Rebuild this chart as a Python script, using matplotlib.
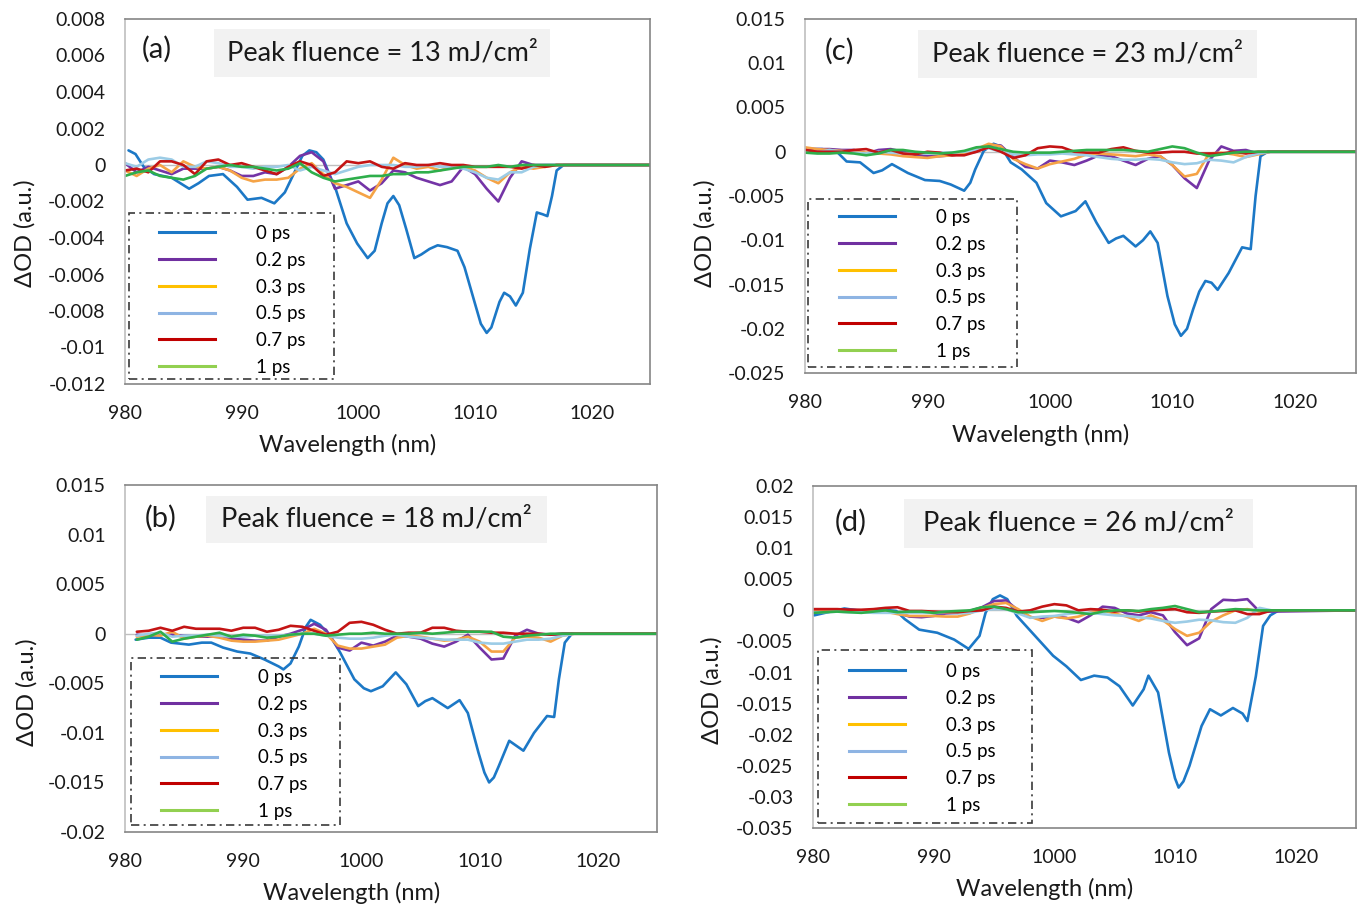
import numpy as np
import matplotlib.pyplot as plt
from matplotlib.lines import Line2D
from matplotlib.patches import Rectangle
from matplotlib.ticker import FuncFormatter

plt.rcParams['font.family'] = ['Lato', 'DejaVu Sans']

# ---------------- data ----------------
labels = ['0 ps', '0.2 ps', '0.3 ps', '0.5 ps', '0.7 ps', '1 ps']

# common wavelength grid for the small (delayed) traces
wl_grid = list(range(980, 1019)) + [1025]
wl_grid_b = list(range(981, 1019)) + [1025]

# panel (a) 13 mJ/cm2
a_0ps_wl = [980.3, 980.9, 981.6, 982.5, 984.0, 985.5, 986.3, 987.2, 988.4, 989.6, 990.5, 991.7, 992.8,
            993.7, 994.6, 995.2, 995.8, 996.4, 997.0, 998.1, 999.0, 999.9, 1000.8, 1001.4, 1002.0,
            1002.5, 1003.0, 1003.5, 1004.1, 1004.8, 1005.4, 1006.1, 1006.8, 1007.6, 1008.5, 1009.1,
            1010.0, 1010.5, 1011.0, 1011.4, 1011.7, 1012.1, 1012.5, 1013.0, 1013.5, 1014.1, 1014.7,
            1015.3, 1015.8, 1016.2, 1016.6, 1017.0, 1017.6, 1018.5, 1025]
a_0ps = [0.0008, 0.0006, -0.0001, -0.0005, -0.0007, -0.0013, -0.0010, -0.0006, -0.0005, -0.0012,
         -0.0019, -0.0018, -0.0021, -0.0015, -0.0003, 0.0005, 0.0008, 0.0007, 0.0003, -0.0014,
         -0.0032, -0.0043, -0.0051, -0.0047, -0.0032, -0.0021, -0.0017, -0.0022, -0.0035, -0.0051,
         -0.0049, -0.0046, -0.0044, -0.0045, -0.0047, -0.0056, -0.0076, -0.0087, -0.0092, -0.0089,
         -0.0083, -0.0075, -0.0070, -0.0072, -0.0077, -0.0070, -0.0046, -0.0026, -0.0027, -0.0028,
         -0.0017, -0.0003, 0.0, 0.0, 0.0]
a_02ps = [0.0001, -0.0004, -0.0001, -0.0003, -0.0005, -0.0002, -0.0002, -0.0002, -0.0001, -0.0003,
          -0.0006, -0.0006, -0.0004, -0.0005, -0.0001, 0.0005, 0.0007, 0.0002, -0.0013, -0.0011,
          -0.0009, -0.0014, -0.0010, -0.0003, -0.0004, -0.0007, -0.0009, -0.0011, -0.0009, -0.0001,
          -0.0005, -0.0013, -0.0020, -0.0007, 0.0002, 0.0, 0.0, 0.0, 0.0, 0.0]
a_03ps = [-0.0003, -0.0006, -0.0002, 0.0, -0.0004, 0.0002, -0.0001, -0.0002, -0.0001, -0.0003,
          -0.0007, -0.0009, -0.0008, -0.0008, -0.0007, -0.0002, 0.0001, -0.0005, -0.0010, -0.0012,
          -0.0015, -0.0018, -0.0008, 0.0004, 0.0, -0.0002, -0.0001, -0.0003, -0.0001, -0.0001,
          -0.0003, -0.0007, -0.0010, -0.0004, -0.0001, -0.0002, -0.0001, 0.0, 0.0, 0.0]
a_05ps = [0.0001, -0.0001, 0.0003, 0.0004, 0.0003, -0.0001, -0.0001, 0.0002, 0.0001, -0.0001,
          -0.0001, -0.0002, -0.0001, -0.0001, 0.0, -0.0003, -0.0001, -0.0003, -0.0005, -0.0003,
          -0.0001, 0.0, 0.0, 0.0, -0.0001, -0.0001, 0.0, -0.0001, -0.0001, -0.0002,
          -0.0004, -0.0007, -0.0008, -0.0004, -0.0004, -0.0001, 0.0, 0.0, 0.0, 0.0]
a_07ps = [-0.0003, -0.0002, -0.0004, 0.0002, 0.0002, 0.0, -0.0005, 0.0002, 0.0003, 0.0,
          0.0001, -0.0001, -0.0003, -0.0005, -0.0001, 0.0002, 0.0, -0.0006, -0.0004, 0.0002,
          0.0001, 0.0002, -0.0001, -0.0002, 0.0001, 0.0, 0.0, 0.0001, 0.0, 0.0,
          -0.0001, -0.0001, -0.0001, -0.0001, -0.0002, 0.0, -0.0001, 0.0, 0.0, 0.0]
a_1ps = [-0.0006, -0.0004, -0.0003, -0.0006, -0.0007, -0.0008, -0.0006, -0.0002, -0.0001, 0.0,
         -0.0001, -0.0001, -0.0002, -0.0003, -0.0002, 0.0001, -0.0004, -0.0007, -0.0009, -0.0008,
         -0.0007, -0.0006, -0.0006, -0.0005, -0.0005, -0.0004, -0.0004, -0.0003, -0.0002, -0.0001,
         -0.0001, -0.0001, 0.0, -0.0001, 0.0, 0.0, 0.0, 0.0, 0.0, 0.0]

# panel (b) 18 mJ/cm2
b_0ps_wl = [980.9, 982.0, 983.0, 983.9, 985.4, 986.5, 987.3, 988.3, 989.5, 990.6, 991.8, 993.0, 993.4,
            994.0, 994.7, 995.3, 995.7, 996.5, 997.4, 998.2, 999.4, 1000.2, 1000.8, 1001.8, 1002.9,
            1003.8, 1004.8, 1005.4, 1006.0, 1007.3, 1008.3, 1009.0, 1009.9, 1010.4, 1010.8, 1011.2,
            1011.6, 1012.5, 1013.1, 1013.7, 1014.6, 1015.7, 1016.3, 1016.7, 1017.2, 1017.8, 1025]
b_0ps = [-0.0006, -0.0004, -0.0004, -0.0009, -0.0011, -0.0009, -0.0009, -0.0014, -0.0018, -0.0020,
         -0.0026, -0.0033, -0.0036, -0.0030, -0.0013, 0.0007, 0.0014, 0.0009, -0.0003, -0.0019,
         -0.0046, -0.0055, -0.0058, -0.0053, -0.0039, -0.0051, -0.0073, -0.0068, -0.0065, -0.0075,
         -0.0067, -0.0080, -0.0120, -0.0140, -0.0150, -0.0145, -0.0134, -0.0108, -0.0113, -0.0118,
         -0.0100, -0.0083, -0.0084, -0.0046, -0.0009, 0.0, 0.0]
b_02ps = [-0.0001, -0.0002, -0.0001, -0.0001, -0.0002, -0.0003, -0.0003, -0.0002, -0.0005, -0.0006,
          -0.0007, -0.0007, -0.0003, 0.0, 0.0004, 0.0010, 0.0004, -0.0014, -0.0017, -0.0009,
          -0.0012, -0.0008, -0.0002, -0.0003, -0.0005, -0.0010, -0.0013, -0.0008, -0.0001, -0.0014,
          -0.0026, -0.0025, -0.0002, 0.0004, 0.0, -0.0001, 0.0, 0.0, 0.0]
b_03ps = [-0.0003, -0.0001, -0.0002, 0.0002, -0.0005, -0.0003, -0.0002, -0.0004, -0.0007, -0.0008,
          -0.0008, -0.0007, -0.0006, -0.0003, 0.0, 0.0005, 0.0, -0.0012, -0.0015, -0.0015,
          -0.0013, -0.0011, -0.0004, -0.0002, -0.0003, -0.0005, -0.0007, -0.0006, -0.0003, -0.0008,
          -0.0018, -0.0018, -0.0004, -0.0003, -0.0004, -0.0008, -0.0002, 0.0, 0.0]
b_05ps = [-0.0002, 0.0, 0.0001, -0.0003, -0.0002, -0.0002, -0.0001, -0.0002, -0.0003, -0.0003,
          -0.0002, -0.0002, -0.0002, -0.0001, 0.0, 0.0, -0.0002, -0.0004, -0.0005, -0.0005,
          -0.0004, -0.0002, -0.0001, -0.0003, -0.0004, -0.0005, -0.0006, -0.0006, -0.0006, -0.0009,
          -0.0010, -0.0010, -0.0008, -0.0006, -0.0006, -0.0005, -0.0002, 0.0, 0.0]
b_07ps = [0.0002, 0.0003, 0.0006, 0.0003, 0.0007, 0.0005, 0.0005, 0.0005, 0.0003, 0.0006,
          0.0006, 0.0002, 0.0004, 0.0008, 0.0007, 0.0003, -0.0001, 0.0002, 0.0011, 0.0012,
          0.0009, 0.0004, 0.0, 0.0001, 0.0001, 0.0006, 0.0006, 0.0003, 0.0002, 0.0002,
          0.0001, 0.0001, 0.0, 0.0, 0.0, -0.0001, 0.0, 0.0, 0.0]
b_1ps = [-0.0006, -0.0003, 0.0002, -0.0008, -0.0005, -0.0003, -0.0001, 0.0001, -0.0003, -0.0001,
         -0.0002, -0.0004, -0.0003, -0.0001, 0.0, 0.0, -0.0002, -0.0001, 0.0, 0.0,
         0.0001, 0.0, 0.0, 0.0, 0.0001, 0.0, 0.0001, 0.0002, 0.0002, 0.0002,
         0.0002, -0.0003, -0.0004, -0.0002, -0.0001, 0.0, 0.0, 0.0, 0.0]

# panel (c) 23 mJ/cm2
c_0ps_wl = [980.2, 981.4, 982.6, 983.4, 984.5, 985.6, 986.3, 987.1, 988.4, 989.8, 991.0, 991.9, 993.0,
            993.5, 993.9, 994.6, 995.4, 996.0, 996.8, 997.7, 998.9, 999.7, 1000.9, 1002.1, 1002.9,
            1003.8, 1004.8, 1005.4, 1006.0, 1007.0, 1007.6, 1008.2, 1008.8, 1009.6, 1010.2, 1010.7,
            1011.2, 1011.7, 1012.2, 1012.7, 1013.2, 1013.7, 1014.6, 1015.7, 1016.4, 1016.8, 1017.2,
            1017.8, 1025]
c_0ps = [0.0003, 0.0003, 0.0, -0.0011, -0.0012, -0.0024, -0.0021, -0.0014, -0.0024, -0.0032,
         -0.0033, -0.0037, -0.0044, -0.0035, -0.0020, 0.0001, 0.0009, 0.0006, -0.0012, -0.0020,
         -0.0035, -0.0058, -0.0073, -0.0067, -0.0056, -0.0080, -0.0103, -0.0098, -0.0095, -0.0107,
         -0.0100, -0.0090, -0.0103, -0.0163, -0.0195, -0.0208, -0.0200, -0.0178, -0.0158, -0.0146,
         -0.0148, -0.0156, -0.0137, -0.0108, -0.0110, -0.0050, -0.0005, 0.0, 0.0]
c_02ps = [0.0003, 0.0003, 0.0003, 0.0002, 0.0002, -0.0002, 0.0002, 0.0003, 0.0, -0.0003,
          -0.0005, -0.0005, -0.0004, -0.0002, 0.0, 0.0008, 0.0007, -0.0006, -0.0017, -0.0019,
          -0.0010, -0.0012, -0.0015, -0.0010, -0.0004, -0.0005, -0.0010, -0.0015, -0.0008, -0.0005,
          -0.0015, -0.0030, -0.0041, -0.0010, 0.0006, 0.0001, 0.0002, -0.0002, 0.0, 0.0]
c_03ps = [0.0005, 0.0003, 0.0002, 0.0001, 0.0, -0.0001, -0.0002, -0.0003, -0.0005, -0.0006,
          -0.0007, -0.0005, -0.0004, -0.0002, 0.0003, 0.0009, 0.0006, -0.0008, -0.0014, -0.0019,
          -0.0014, -0.0011, -0.0008, -0.0003, -0.0002, -0.0003, -0.0004, -0.0005, -0.0003, -0.0005,
          -0.0015, -0.0028, -0.0025, -0.0002, -0.0001, -0.0003, -0.0006, -0.0003, 0.0, 0.0]
c_05ps = [0.0, -0.0001, 0.0002, 0.0, -0.0001, -0.0002, 0.0, -0.0001, -0.0002, -0.0002,
          -0.0002, -0.0001, -0.0001, 0.0, 0.0002, 0.0004, 0.0, -0.0003, -0.0004, -0.0003,
          -0.0003, -0.0002, -0.0003, -0.0004, -0.0006, -0.0008, -0.0009, -0.0009, -0.0008, -0.0009,
          -0.0012, -0.0014, -0.0013, -0.0009, -0.0010, -0.0012, -0.0006, -0.0002, 0.0, 0.0]
c_07ps = [0.0002, 0.0, 0.0, 0.0, 0.0002, 0.0003, -0.0001, 0.0002, -0.0002, -0.0003,
          0.0, -0.0001, -0.0004, -0.0004, 0.0, 0.0005, 0.0, -0.0007, -0.0004, 0.0004,
          0.0006, 0.0005, 0.0, -0.0001, -0.0001, 0.0003, 0.0005, 0.0001, -0.0001, -0.0001,
          0.0, 0.0, -0.0002, -0.0002, -0.0002, 0.0, -0.0002, 0.0, 0.0, 0.0]
c_1ps = [-0.0001, -0.0002, -0.0002, -0.0001, -0.0002, -0.0004, -0.0002, 0.0002, 0.0002, 0.0,
         -0.0001, -0.0002, -0.0001, 0.0001, 0.0005, 0.0006, 0.0003, 0.0, -0.0001, -0.0001,
         -0.0001, 0.0, 0.0001, 0.0002, 0.0002, 0.0002, 0.0002, 0.0001, 0.0, 0.0003,
         0.0006, 0.0004, -0.0001, -0.0005, -0.0003, -0.0001, 0.0, 0.0, 0.0, 0.0]

# panel (d) 26 mJ/cm2
d_0ps_wl = [980.1, 981.0, 982.6, 984.0, 985.5, 986.9, 987.6, 988.8, 990.3, 991.7, 992.9, 993.8, 994.3,
            994.9, 995.5, 996.1, 996.9, 998.4, 999.9, 1001.0, 1002.2, 1003.3, 1004.4, 1005.4, 1006.5,
            1007.4, 1007.8, 1008.6, 1009.5, 1010.0, 1010.3, 1010.7, 1011.2, 1012.2, 1012.9, 1013.8,
            1014.8, 1015.6, 1016.0, 1016.7, 1017.3, 1017.9, 1018.6, 1025]
d_0ps = [-0.0008, -0.0004, 0.0003, -0.0001, 0.0002, -0.0001, -0.0014, -0.0031, -0.0036, -0.0047,
         -0.0062, -0.0041, -0.0004, 0.0018, 0.0024, 0.0018, -0.0009, -0.0041, -0.0073, -0.0090,
         -0.0112, -0.0105, -0.0108, -0.0122, -0.0153, -0.0127, -0.0105, -0.0132, -0.0229, -0.0270,
         -0.0285, -0.0275, -0.0250, -0.0186, -0.0159, -0.0169, -0.0157, -0.0166, -0.0178, -0.0106,
         -0.0025, -0.0008, 0.0, 0.0]
d_02ps = [-0.0001, 0.0, 0.0001, 0.0001, 0.0, 0.0, 0.0, -0.0004, -0.0010, -0.0011,
          -0.0009, -0.0005, -0.0004, -0.0001, 0.0005, 0.0015, 0.0016, 0.0, -0.0011, -0.0012,
          -0.0010, -0.0012, -0.0019, -0.0008, 0.0006, 0.0004, -0.0005, -0.0008, -0.0003, -0.0008,
          -0.0035, -0.0056, -0.0045, 0.0002, 0.0017, 0.0016, 0.0018, -0.0002, -0.0002, 0.0]
d_03ps = [0.0, -0.0001, 0.0, 0.0, -0.0001, -0.0001, -0.0002, -0.0006, -0.0009, -0.0009,
          -0.0009, -0.0010, -0.0010, -0.0005, 0.0004, 0.0010, 0.0012, 0.0002, -0.0010, -0.0017,
          -0.0010, -0.0013, -0.0010, -0.0003, 0.0, -0.0005, -0.0010, -0.0017, -0.0008, -0.0016,
          -0.0030, -0.0041, -0.0036, -0.0018, -0.0008, 0.0, 0.0002, -0.0002, 0.0, 0.0]
d_05ps = [-0.0003, -0.0003, -0.0002, -0.0003, -0.0003, -0.0004, -0.0004, -0.0004, -0.0004, -0.0004,
          -0.0004, -0.0004, -0.0005, -0.0004, 0.0, 0.0002, 0.0002, -0.0005, -0.0012, -0.0010,
          -0.0009, -0.0006, -0.0004, -0.0004, -0.0006, -0.0008, -0.0009, -0.0011, -0.0013, -0.0017,
          -0.0020, -0.0018, -0.0015, -0.0016, -0.0019, -0.0020, -0.0012, 0.0004, 0.0, 0.0]
d_07ps = [0.0002, 0.0002, 0.0002, 0.0001, 0.0001, 0.0002, 0.0004, 0.0005, -0.0001, -0.0001,
          -0.0002, -0.0003, -0.0003, -0.0001, 0.0, 0.0006, 0.0004, -0.0002, 0.0, 0.0006,
          0.0010, 0.0008, 0.0, 0.0002, 0.0001, -0.0002, 0.0, -0.0002, 0.0, 0.0001,
          0.0002, -0.0003, -0.0004, -0.0002, -0.0001, 0.0, -0.0006, -0.0006, 0.0, 0.0]
d_1ps = [-0.0004, -0.0003, -0.0002, -0.0003, -0.0004, -0.0002, 0.0, -0.0003, -0.0002, -0.0002,
         -0.0004, -0.0002, -0.0001, 0.0, 0.0005, 0.0006, 0.0002, -0.0003, -0.0003, -0.0002,
         -0.0001, -0.0002, -0.0004, -0.0006, -0.0002, 0.0, 0.0, -0.0001, 0.0002, 0.0004,
         0.0007, 0.0002, -0.0003, -0.0002, 0.0, 0.0002, 0.0001, 0.0, 0.0, 0.0]

fluences = ['13', '18', '23', '26']
y_ticks_a = [-0.012, -0.01, -0.008, -0.006, -0.004, -0.002, 0, 0.002, 0.004, 0.006, 0.008]
y_ticks_b = [-0.02, -0.015, -0.01, -0.005, 0, 0.005, 0.01, 0.015]
y_ticks_c = [-0.025, -0.02, -0.015, -0.01, -0.005, 0, 0.005, 0.01, 0.015]
y_ticks_d = [-0.035, -0.03, -0.025, -0.02, -0.015, -0.01, -0.005, 0, 0.005, 0.01, 0.015, 0.02]
x_ticks = [980, 990, 1000, 1010, 1020]

# ---------------- styling ----------------
line_colors = ['#1C78C6', '#7434A6', '#F5A346', '#9CCCE6', '#C41414', '#2EAE4B']
legend_colors = ['#1C78C6', '#7030A0', '#FFC000', '#8EB4E3', '#C00000', '#92D050']

W, H = 1362, 909
fig = plt.figure(figsize=(W / 100, H / 100), dpi=100)


def excel_fmt(v, pos):
    v = round(v, 6)
    if v == 0:
        return '0'
    return '{:g}'.format(v)


panels = [
    # tag, fluence, axes box px (l, t, r, b), series, yticks, legend box px, note box px, tag xy, ylabel xy, xlabel xy
    dict(tag='(a)', flu=fluences[0], box=(125, 19, 650, 384),
         series=[(a_0ps_wl, a_0ps), (wl_grid, a_02ps), (wl_grid, a_03ps), (wl_grid, a_05ps),
                 (wl_grid, a_07ps), (wl_grid, a_1ps)],
         yt=y_ticks_a, leg=(129, 213, 334, 379), row1=232, hx=159,
         note=(214, 29, 550, 77), tagxy=(157, 49), ylab=(25, 233), xlab=(348, 445)),
    dict(tag='(b)', flu=fluences[1], box=(125, 485, 657, 832),
         series=[(b_0ps_wl, b_0ps), (wl_grid_b, b_02ps), (wl_grid_b, b_03ps), (wl_grid_b, b_05ps),
                 (wl_grid_b, b_07ps), (wl_grid_b, b_1ps)],
         yt=y_ticks_b, leg=(131, 658, 340, 825), row1=676, hx=161,
         note=(206, 496, 547, 543), tagxy=(161, 518), ylab=(27, 692), xlab=(352, 893)),
    dict(tag='(c)', flu=fluences[2], box=(805, 19, 1356, 373),
         series=[(c_0ps_wl, c_0ps), (wl_grid, c_02ps), (wl_grid, c_03ps), (wl_grid, c_05ps),
                 (wl_grid, c_07ps), (wl_grid, c_1ps)],
         yt=y_ticks_c, leg=(808, 199, 1017, 367), row1=216, hx=839,
         note=(918, 30, 1257, 78), tagxy=(840, 51), ylab=(705, 233), xlab=(1041, 435)),
    dict(tag='(d)', flu=fluences[3], box=(813, 486, 1356, 828),
         series=[(d_0ps_wl, d_0ps), (wl_grid, d_02ps), (wl_grid, d_03ps), (wl_grid, d_05ps),
                 (wl_grid, d_07ps), (wl_grid, d_1ps)],
         yt=y_ticks_d, leg=(818, 650, 1032, 823), row1=670, hx=849,
         note=(904, 499, 1253, 548), tagxy=(851, 522), ylab=(712, 690), xlab=(1045, 889)),
]

for p in panels:
    l, t, r, b = p['box']
    ax = fig.add_axes([l / W, 1 - b / H, (r - l) / W, (b - t) / H])

    def fx(x):
        return (x - l) / (r - l)

    def fy(y):
        return (b - y) / (b - t)

    ax.axhline(0, color='#BFBFBF', lw=1.0, zorder=1)
    for (wl, vals), col in zip(p['series'], line_colors):
        ax.plot(wl, vals, color=col, lw=1.9, solid_joinstyle='round', solid_capstyle='round', zorder=2)

    ax.set_xlim(980, 1025)
    ax.set_ylim(p['yt'][0], p['yt'][-1])
    ax.set_xticks(x_ticks)
    ax.set_yticks(p['yt'])
    ax.yaxis.set_major_formatter(FuncFormatter(excel_fmt))
    ax.tick_params(axis='both', length=0, labelsize=14, colors='#1a1a1a')
    ax.tick_params(axis='x', pad=15)
    ax.tick_params(axis='y', pad=14)
    for side in ['top', 'right', 'bottom']:
        ax.spines[side].set_color('#858585')
        ax.spines[side].set_linewidth(1.2)
    ax.spines['left'].set_color('#BFBFBF')
    ax.spines['left'].set_linewidth(1.2)

    # legend: entries without frame, dash-dot box drawn around them
    handles = [Line2D([], [], color=c, lw=2.2) for c in legend_colors]
    ax.legend(handles, labels, loc='upper left', frameon=False, fontsize=13.5,
              bbox_to_anchor=(fx(p['hx']), fy(p['row1'] - 7)), borderpad=0, borderaxespad=0,
              handlelength=3.0, handletextpad=2.2, labelspacing=0.52)
    ll, lt, lr, lb = p['leg']
    ax.add_patch(Rectangle((fx(ll), fy(lb)), fx(lr) - fx(ll), fy(lt) - fy(lb), transform=ax.transAxes,
                           fill=False, ec='#3a3a3a', lw=1.2, ls=(0, (5, 2.6, 1.2, 2.6)), zorder=5))

    # fluence note on grey background
    nl, nt, nr, nb = p['note']
    ax.add_patch(Rectangle((fx(nl), fy(nb)), fx(nr) - fx(nl), fy(nt) - fy(nb), transform=ax.transAxes,
                           fc='#F2F2F2', ec='none', zorder=3))
    ax.text(fx((nl + nr) / 2), fy((nt + nb) / 2), 'Peak fluence = ' + p['flu'] + ' mJ/cm\u00b2',
            transform=ax.transAxes, ha='center', va='center', fontsize=19.5, color='#1a1a1a', zorder=4)
    ax.text(fx(p['tagxy'][0]), fy(p['tagxy'][1]), p['tag'], transform=ax.transAxes,
            ha='center', va='center', fontsize=21, color='#1a1a1a')

    fig.text(p['ylab'][0] / W, 1 - p['ylab'][1] / H, '\u0394OD (a.u.)', rotation=90,
             ha='center', va='center', fontsize=17, color='#1a1a1a')
    fig.text(p['xlab'][0] / W, 1 - p['xlab'][1] / H, 'Wavelength (nm)',
             ha='center', va='center', fontsize=17, color='#1a1a1a')

fig.savefig('out.png', dpi=100)
